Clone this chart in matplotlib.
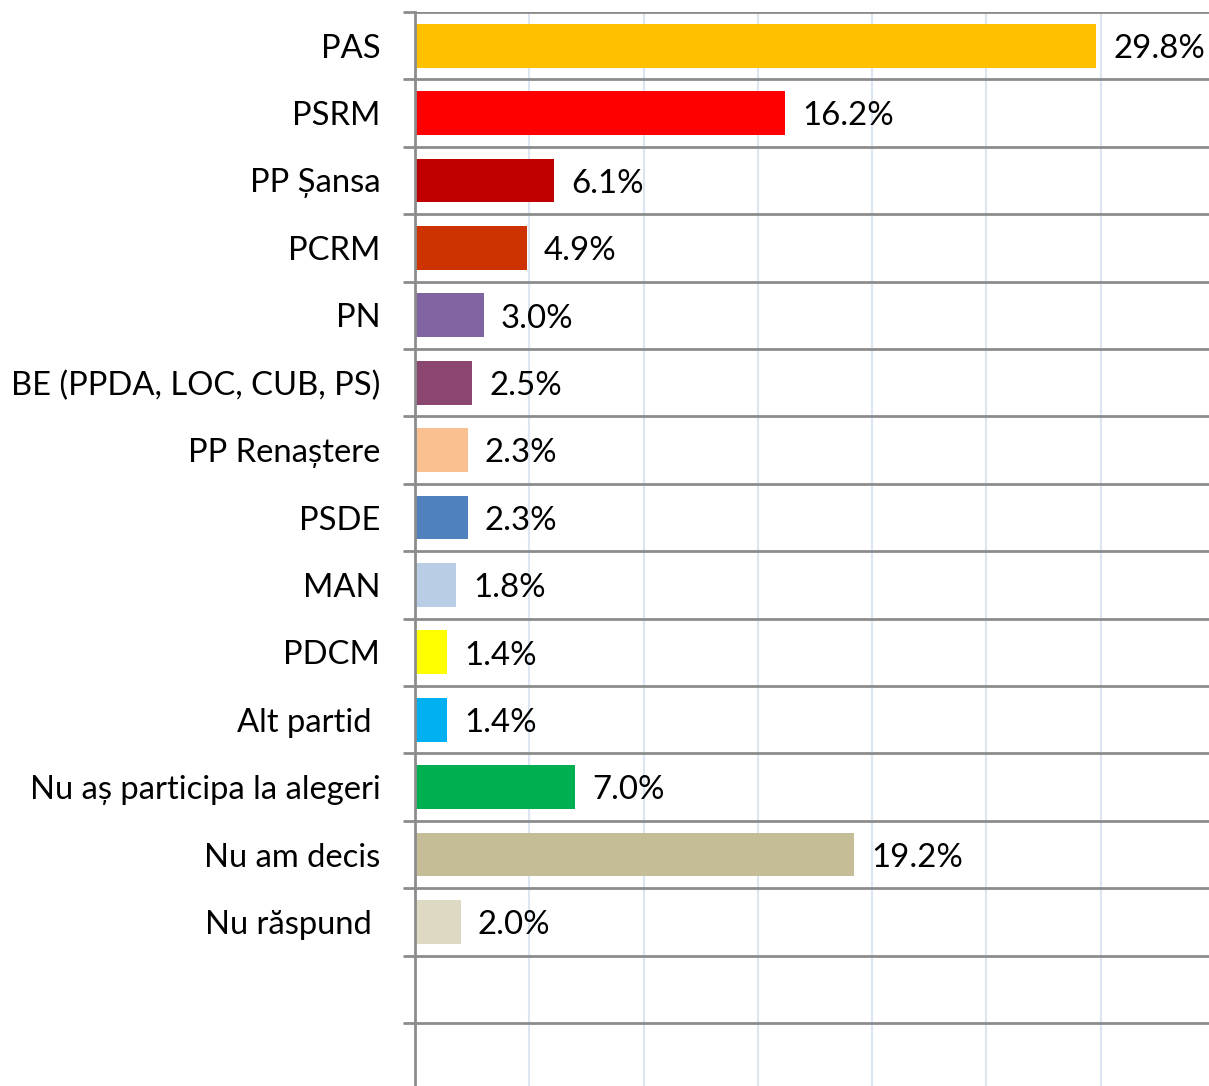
import numpy as np
import matplotlib.pyplot as plt
from matplotlib.ticker import FixedLocator

# data
parties = ['PAS', 'PSRM', 'PP Șansa', 'PCRM', 'PN', 'BE (PPDA, LOC, CUB, PS)',
           'PP Renaștere', 'PSDE', 'MAN', 'PDCM', 'Alt partid ',
           'Nu aș participa la alegeri', 'Nu am decis', 'Nu răspund ']
shares = [29.8, 16.2, 6.1, 4.9, 3.0, 2.5, 2.3, 2.3, 1.8, 1.4, 1.4, 7.0, 19.2, 2.0]
colors = ['#FFC000', '#FF0000', '#C00000', '#CC3300', '#8064A2', '#8B4670',
          '#FAC090', '#4F81BD', '#B9CDE5', '#FFFF00', '#00B0F0', '#00B050',
          '#C4BD97', '#DDD9C3']
n_rows = 16  # two empty rows at the bottom

plt.rcParams['font.family'] = ['Lato', 'DejaVu Sans']

W, H = 1209, 1086
fig = plt.figure(figsize=(W / 100, H / 100), dpi=100)
row_px = 67.4
px_per_pct = 22.85
left_px, top_px = 415, 12
ax = fig.add_axes([left_px / W, 0, (W - left_px) / W, (H - top_px) / H])
ax.set_facecolor('white')

y = np.arange(len(parties))
ax.barh(y, shares, height=0.65, color=colors, zorder=3)
for yi, v in zip(y, shares):
    ax.text(v + 0.75, yi + 0.05, f'{v:.1f}%', va='center', ha='left',
            fontsize=23.8, color='black', zorder=4)

ax.set_xlim(0, (W - left_px) / px_per_pct)
ax.set_ylim(-0.5 + (H - top_px) / row_px, -0.5)

ax.set_yticks(y)
ax.set_yticklabels(parties, fontsize=23.6)
ax.yaxis.set_minor_locator(FixedLocator(np.arange(n_rows) - 0.5))
ax.tick_params(axis='y', which='major', length=0, pad=25)
ax.tick_params(axis='y', which='minor', length=9, width=2, color='#8C8C8C')
ax.grid(axis='y', which='minor', color='#8C8C8C', linewidth=2, zorder=1)

ax.set_xticks(np.arange(5, 35, 5))
ax.tick_params(axis='x', which='both', length=0, labelbottom=False)
ax.grid(axis='x', which='major', color='#DCE6F2', linewidth=1.5, zorder=1)

for s in ['top', 'right', 'bottom']:
    ax.spines[s].set_visible(False)
ax.spines['left'].set_color('#8C8C8C')
ax.spines['left'].set_linewidth(2)
ax.spines['left'].set_zorder(5)

fig.savefig('out.png', dpi=100, facecolor='white')
